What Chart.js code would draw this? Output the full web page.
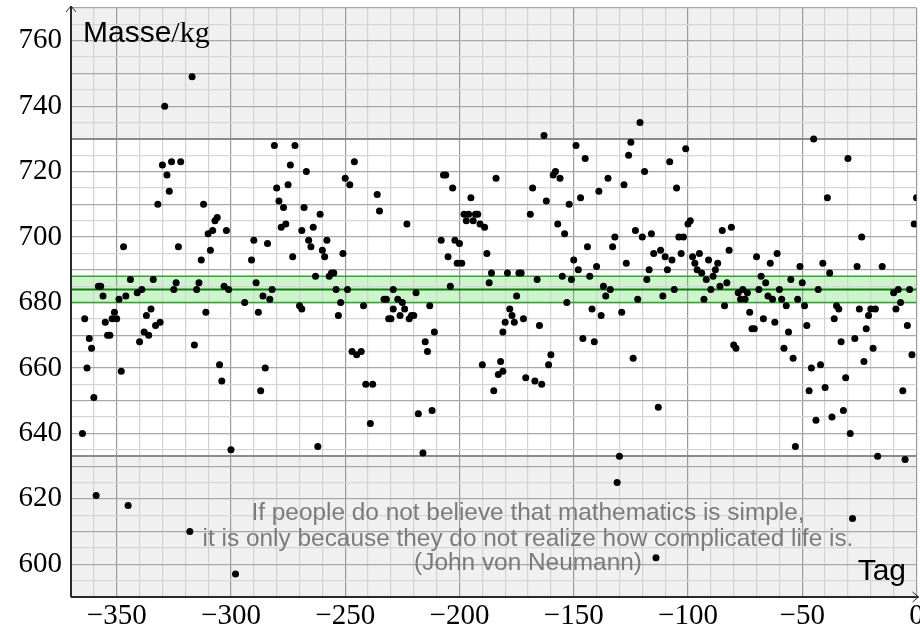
<!DOCTYPE html>
<html>
<head>
<meta charset="utf-8">
<script src="https://cdn.jsdelivr.net/npm/chart.js@4/dist/chart.umd.min.js"></script>
<style>
  html, body { margin: 0; padding: 0; background: #ffffff; }
  #wrap { width: 920px; height: 630px; position: relative; }
</style>
</head>
<body>
<div id="wrap"><canvas id="c" width="920" height="630"></canvas></div>
<script>
// ---- data ----
const days = [
  -365,-364,-363,-362,-361,-360,-359,-358,-357,-356,-355,-354,-353,-352,-351,-350,-349,-348,-347,-346,
  -345,-344,-341,-340,-339,-338,-337,-336,-335,-334,-333,-332,-331,-330,-329,-328,-327,-326,-325,-324,
  -323,-322,-318,-317,-316,-315,-314,-313,-312,-311,-310,-309,-308,-307,-306,-305,-304,-303,-302,-301,
  -300,-298,-294,-291,-290,-289,-288,-287,-286,-285,-284,-283,-282,-281,-280,-279,-278,-277,-276,-275,
  -274,-272,-273,-270,-269,-268,-269,-267,-266,-265,-264,-263,-262,-261,-260,-259,-258,-257,-256,-255,
  -254,-253,-252,-251,-250,-249,-248,-247,-246,-245,-243,-242,-241,-239,-238,-236,-235,-233,-232,-231,
  -230,-229,-229,-227,-226,-225,-224,-223,-222,-221,-220,-219,-218,-216,-215,-214,-213,-212,-211,-208,
  -207,-206,-205,-204,-203,-202,-201,-200,-199,-198,-197,-196,-195,-194,-193,-192,-191,-190,-189,-188,
  -187,-186,-185,-184,-183,-182,-181,-181,-180,-179,-178,-177,-176,-175,-174,-173,-172,-171,-169,-168,
  -167,-166,-165,-164,-163,-162,-161,-160,-159,-158,-157,-156,-155,-154,-153,-152,-151,-150,-149,-148,
  -147,-146,-145,-144,-143,-142,-141,-140,-139,-138,-137,-136,-135,-134,-133,-132,-131,-130,-129,-128,
  -127,-126,-125,-124,-123,-122,-121,-120,-119,-118,-117,-116,-115,-114,-113,-112,-111,-110,-109,-108,
  -107,-106,-105,-104,-103,-102,-101,-100,-99,-98,-97,-96,-95,-94,-93,-92,-91,-90,-89,-88,
  -87,-86,-85,-84,-83,-82,-81,-80,-79,-78,-77,-76,-75,-74,-73,-72,-71,-70,-69,-68,
  -67,-66,-65,-64,-63,-62,-61,-60,-59,-58,-57,-56,-55,-54,-53,-52,-51,-50,-49,-48,
  -47,-46,-45,-44,-43,-42,-41,-40,-39,-38,-37,-36,-35,-34,-33,-32,-31,-30,-29,-28,
  -27,-26,-25,-24,-23,-22,-21,-20,-19,-18,-17,-15,-10,-9,-8,-7,-6,-5,-4,-3,
  -2,-1,0
];
const masses = [
  640,675,660,669,666,651,621,685,685,682,674,670,670,675,677,675,681,659,697,682,
  618,687,683,668,684,671,676,670,678,687,673,710,674,722,740,719,714,723,684,686,
  697,723,610,749,667,684,686,693,710,677,701,696,702,705,706,661,656,685,702,684,
  635,597,680,693,699,686,677,653,682,660,698,681,684,728,715,711,703,709,704,716,
  722,728,694,679,678,709,702,720,699,697,703,688,636,707,696,694,699,688,689,689,
  684,676,680,695,718,684,716,665,723,664,665,679,655,643,655,713,708,681,681,675,
  675,684,678,681,676,680,678,704,675,676,676,683,646,634,668,665,679,647,671,699,
  719,719,694,685,715,699,692,698,692,707,705,707,712,705,707,707,704,661,703,695,
  686,689,653,718,658,662,659,671,674,689,678,676,674,682,689,689,675,657,707,715,
  656,687,673,655,731,711,661,664,719,720,704,718,688,701,680,710,687,693,728,690,
  712,669,724,697,688,678,668,691,714,676,685,682,718,684,697,700,625,633,677,716,
  692,725,729,663,702,681,735,700,720,687,690,701,695,602,648,696,682,694,690,723,
  693,684,715,700,695,700,727,704,705,694,692,690,695,689,681,687,693,684,688,690,
  692,685,702,679,686,696,703,667,666,683,681,684,681,683,677,672,672,694,684,688,
  675,686,682,692,681,674,695,684,681,666,679,671,687,663,636,681,691,686,679,673,
  653,660,730,644,684,661,692,654,712,689,645,675,679,678,668,647,657,724,640,614,
  669,691,678,700,662,672,676,678,666,678,633,691,683,678,684,680,653,632,673,684,
  664,704,712
];
const yTickLabels = [600, 620, 640, 660, 680, 700, 720, 740, 760];
const xTickLabels = [-350, -300, -250, -200, -150, -100, -50, 0];
const meanValue = [684];
const bandLimits = [680, 688];
const controlLimits = [633, 730];
const quoteLines = [
  "If people do not believe that mathematics is simple,",
  "it is only because they do not realize how complicated life is.",
  "(John von Neumann)"
];
const yAxisTitle = ["Masse", "/kg"];
const xAxisTitle = ["Tag"];

// ---- chart ----
const points = days.map((d, i) => ({ x: d, y: masses[i] }));
const SERIF = '"Liberation Serif", "DejaVu Serif", serif';
const SANS = '"Liberation Sans", Arial, sans-serif';
const fmt = v => (v < 0 ? '\u2212' + Math.abs(v) : String(v));

const backPlugin = {
  id: 'back',
  beforeDraw(chart) {
    const { ctx, chartArea: a, scales: { y } } = chart;
    ctx.save();
    ctx.fillStyle = '#f0f0f0';
    ctx.fillRect(a.left, a.top, a.right - a.left, a.bottom - a.top);
    const yHi = y.getPixelForValue(controlLimits[1]);
    const yLo = y.getPixelForValue(controlLimits[0]);
    ctx.fillStyle = '#ffffff';
    ctx.fillRect(a.left, yHi, a.right - a.left, yLo - yHi);
    const b1 = y.getPixelForValue(bandLimits[1]);
    const b0 = y.getPixelForValue(bandLimits[0]);
    ctx.fillStyle = '#ccf5cc';
    ctx.fillRect(a.left, b1, a.right - a.left, b0 - b1);
    ctx.restore();
  },
  beforeDatasetsDraw(chart) {
    const { ctx, chartArea: a, scales: { x, y } } = chart;
    ctx.save();
    ctx.strokeStyle = '#8a8a8a';
    ctx.lineWidth = 2;
    controlLimits.forEach(v => {
      const p = Math.round(y.getPixelForValue(v));
      ctx.beginPath(); ctx.moveTo(a.left, p); ctx.lineTo(a.right, p); ctx.stroke();
    });
    ctx.strokeStyle = '#33a333';
    ctx.lineWidth = 1.5;
    bandLimits.forEach(v => {
      const p = y.getPixelForValue(v);
      ctx.beginPath(); ctx.moveTo(a.left, p); ctx.lineTo(a.right, p); ctx.stroke();
    });
    ctx.strokeStyle = '#147a14';
    ctx.lineWidth = 2;
    const m = y.getPixelForValue(meanValue[0]);
    ctx.beginPath(); ctx.moveTo(a.left, m); ctx.lineTo(a.right, m); ctx.stroke();

    ctx.fillStyle = '#7a7a7a';
    ctx.font = '24.4px ' + SANS;
    ctx.textAlign = 'center';
    ctx.textBaseline = 'alphabetic';
    const cx = 528;
    [520, 546, 570].forEach((by, i) => ctx.fillText(quoteLines[i], cx, by));

    ctx.strokeStyle = '#2a2a2a';
    ctx.lineWidth = 2;
    ctx.beginPath();
    ctx.moveTo(a.left, a.bottom); ctx.lineTo(a.left, a.top - 2);
    ctx.moveTo(a.left, a.bottom); ctx.lineTo(a.right + 2, a.bottom);
    ctx.stroke();
    ctx.lineWidth = 1;
    ctx.beginPath();
    ctx.moveTo(a.left - 5, a.top + 4); ctx.lineTo(a.left, a.top - 2); ctx.lineTo(a.left + 5, a.top + 4);
    ctx.moveTo(a.right - 4, a.bottom - 5); ctx.lineTo(a.right + 2, a.bottom); ctx.lineTo(a.right - 4, a.bottom + 5);
    ctx.stroke();

    ctx.fillStyle = '#000000';
    ctx.textAlign = 'left';
    ctx.font = '30px ' + SANS;
    ctx.fillText(yAxisTitle[0], 83, 42);
    const w = ctx.measureText(yAxisTitle[0]).width;
    ctx.font = '30px ' + SERIF;
    ctx.fillText(yAxisTitle[1], 83 + w, 42);
    ctx.font = '30px ' + SANS;
    ctx.textAlign = 'right';
    ctx.fillText(xAxisTitle[0], 906, 580);
    ctx.restore();
  }
};

new Chart(document.getElementById('c'), {
  type: 'scatter',
  data: {
    datasets: [{
      data: points,
      backgroundColor: '#000000',
      borderWidth: 0,
      pointRadius: 3.5,
      pointHoverRadius: 3.5
    }]
  },
  options: {
    responsive: false,
    animation: false,
    events: [],
    layout: { padding: { top: 8, right: 2, left: 0, bottom: 0 } },
    plugins: { legend: { display: false }, tooltip: { enabled: false } },
    scales: {
      x: {
        type: 'linear',
        min: -370, max: 0,
        afterFit(s) { s.height = 33; s.paddingLeft = 0; s.paddingRight = 0; },
        border: { display: false },
        grid: {
          drawTicks: false,
          color: c => (c.tick && c.tick.value % 50 === 0) ? '#9a9a9a' : '#d2d2d2',
          lineWidth: 1.2
        },
        ticks: {
          stepSize: 10,
          autoSkip: false,
          maxRotation: 0,
          padding: 2,
          color: '#000000',
          font: { family: SERIF, size: 29 },
          callback: v => (xTickLabels.includes(v) ? fmt(v) : '')
        }
      },
      y: {
        type: 'linear',
        min: 590, max: 770,
        afterFit(s) { s.width = 71; s.paddingTop = 0; s.paddingBottom = 0; },
        border: { display: false },
        grid: {
          drawTicks: false,
          color: c => (c.tick && c.tick.value % 10 === 0) ? '#a8a8a8' : '#d6d6d6',
          lineWidth: 1.2
        },
        ticks: {
          stepSize: 5,
          autoSkip: false,
          padding: 9,
          color: '#000000',
          font: { family: SERIF, size: 29 },
          callback: v => (yTickLabels.includes(v) ? fmt(v) : '')
        }
      }
    }
  },
  plugins: [backPlugin]
});
</script>
</body>
</html>
